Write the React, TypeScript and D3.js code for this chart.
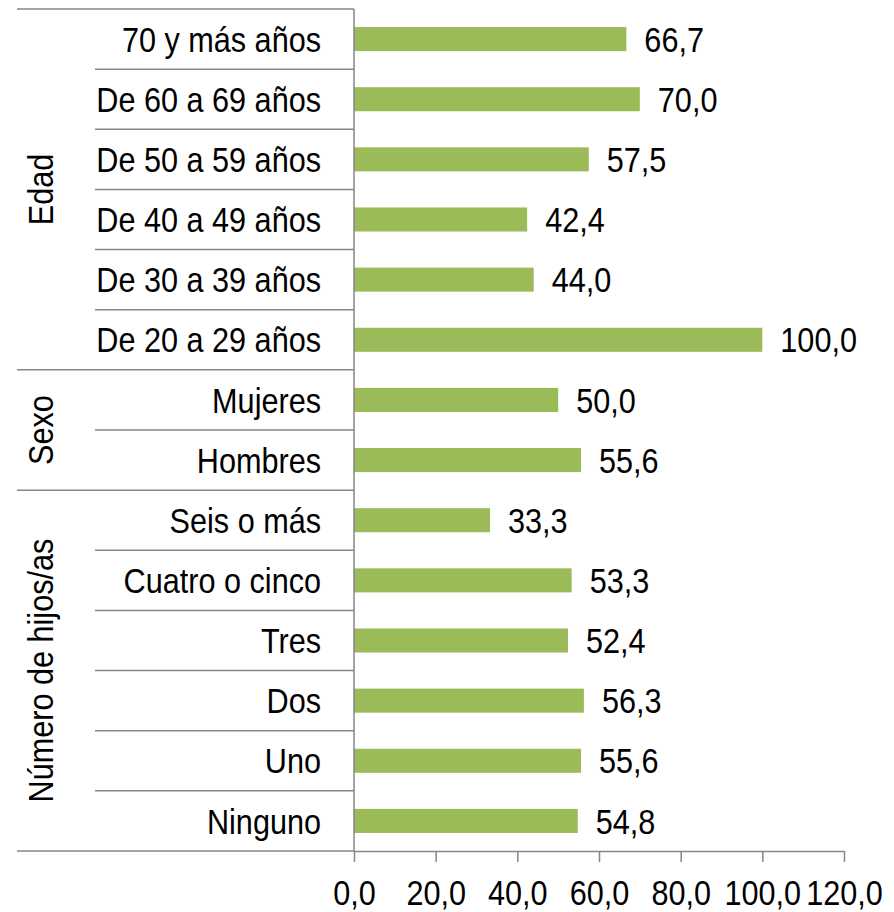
import React, { useEffect, useRef } from "react";
import * as d3 from "d3";

// Categories from top to bottom, with their group
const categories = [
  "70 y más años",
  "De 60 a 69 años",
  "De 50 a 59 años",
  "De 40 a 49 años",
  "De 30 a 39 años",
  "De 20 a 29 años",
  "Mujeres",
  "Hombres",
  "Seis o más",
  "Cuatro o cinco",
  "Tres",
  "Dos",
  "Uno",
  "Ninguno",
];
const values = [66.7, 70.0, 57.5, 42.4, 44.0, 100.0, 50.0, 55.6, 33.3, 53.3, 52.4, 56.3, 55.6, 54.8];
const groups = ["Edad", "Sexo", "Número de hijos/as"];
const groupSizes = [6, 2, 6];
const xTicks = [0, 20, 40, 60, 80, 100, 120];

const FONT = "'Liberation Sans', Arial, sans-serif";
const NARROW = 0.875; // squeeze to mimic the condensed font of the original

const App = () => {
  const chartRef = useRef<SVGSVGElement | null>(null);

  useEffect(() => {
    const svg = d3.select(chartRef.current);
    svg.selectAll("*").remove();

    const left = 354;
    const right = 844;
    const top = 9;
    const bottom = 851;
    const lineColor = "#868686";
    const fmt = (v: number) => v.toFixed(1).replace(".", ",");

    const x = d3.scaleLinear().domain([0, 120]).range([left, right]);
    const y = d3.scaleBand().domain(categories).range([top, bottom]).paddingInner(0.6).paddingOuter(0.3);
    const band = d3.scaleBand().domain(categories).range([top, bottom]);

    const g = svg.append("g");

    // bars
    g.selectAll("rect.bar")
      .data(categories)
      .enter()
      .append("rect")
      .attr("class", "bar")
      .attr("x", x(0))
      .attr("y", (d) => y(d)!)
      .attr("width", (d, i) => x(values[i]) - x(0))
      .attr("height", y.bandwidth())
      .attr("fill", "#9BBB59");

    // value labels
    g.selectAll("text.val")
      .data(categories)
      .enter()
      .append("text")
      .attr("class", "val")
      .attr(
        "transform",
        (d, i) => `translate(${x(values[i]) + 18},${y(d)! + y.bandwidth() / 2}) scale(${NARROW},1)`
      )
      .attr("dy", "0.36em")
      .style("font-family", FONT)
      .style("font-size", "35px")
      .attr("fill", "#000")
      .text((d, i) => fmt(values[i]));

    // category labels
    g.selectAll("text.cat")
      .data(categories)
      .enter()
      .append("text")
      .attr("class", "cat")
      .attr("transform", (d) => `translate(321,${band(d)! + band.bandwidth() / 2}) scale(${NARROW},1)`)
      .attr("dy", "0.36em")
      .attr("text-anchor", "end")
      .style("font-family", FONT)
      .style("font-size", "35px")
      .attr("fill", "#000")
      .text((d) => d);

    // separators between categories and groups
    const groupStarts = d3.cumsum([0, ...groupSizes]);
    const seps = d3.range(categories.length + 1);
    g.selectAll("line.sep")
      .data(seps)
      .enter()
      .append("line")
      .attr("class", "sep")
      .attr("x1", (i) => (groupStarts.includes(i) ? 17 : 95))
      .attr("x2", left)
      .attr("y1", (i) => top + i * band.step())
      .attr("y2", (i) => top + i * band.step())
      .attr("stroke", lineColor)
      .attr("stroke-width", 1.5);

    // group labels (rotated)
    groups.forEach((name, gi) => {
      const cy = top + ((groupStarts[gi] + groupStarts[gi + 1]) / 2) * band.step();
      g.append("text")
        .attr("transform", `translate(40,${cy}) rotate(-90) scale(${NARROW},1)`)
        .attr("text-anchor", "middle")
        .attr("dy", "0.36em")
        .style("font-family", FONT)
        .style("font-size", "35px")
        .attr("fill", "#000")
        .text(name);
    });

    // vertical axis line
    g.append("line")
      .attr("x1", left)
      .attr("x2", left)
      .attr("y1", top)
      .attr("y2", bottom)
      .attr("stroke", lineColor)
      .attr("stroke-width", 1.5);

    // x axis
    const xAxis = g
      .append("g")
      .attr("transform", `translate(0,${bottom})`)
      .call(
        d3
          .axisBottom(x)
          .tickValues(xTicks)
          .tickSize(11)
          .tickSizeOuter(0)
          .tickPadding(18)
          .tickFormat((d) => fmt(d as number))
      );
    xAxis.select(".domain").attr("stroke", lineColor).attr("stroke-width", 1.5);
    xAxis.selectAll(".tick line").attr("stroke", lineColor).attr("stroke-width", 1.5);
    xAxis
      .selectAll(".tick text")
      .attr("fill", "#000")
      .attr("transform", `scale(${NARROW},1)`)
      .style("font-family", FONT)
      .style("font-size", "35px");
  }, []);

  return (
    <svg
      ref={chartRef}
      width={894}
      height={912}
      style={{ position: "absolute", left: 0, top: 0, background: "#fff" }}
    />
  );
};

export default App;
